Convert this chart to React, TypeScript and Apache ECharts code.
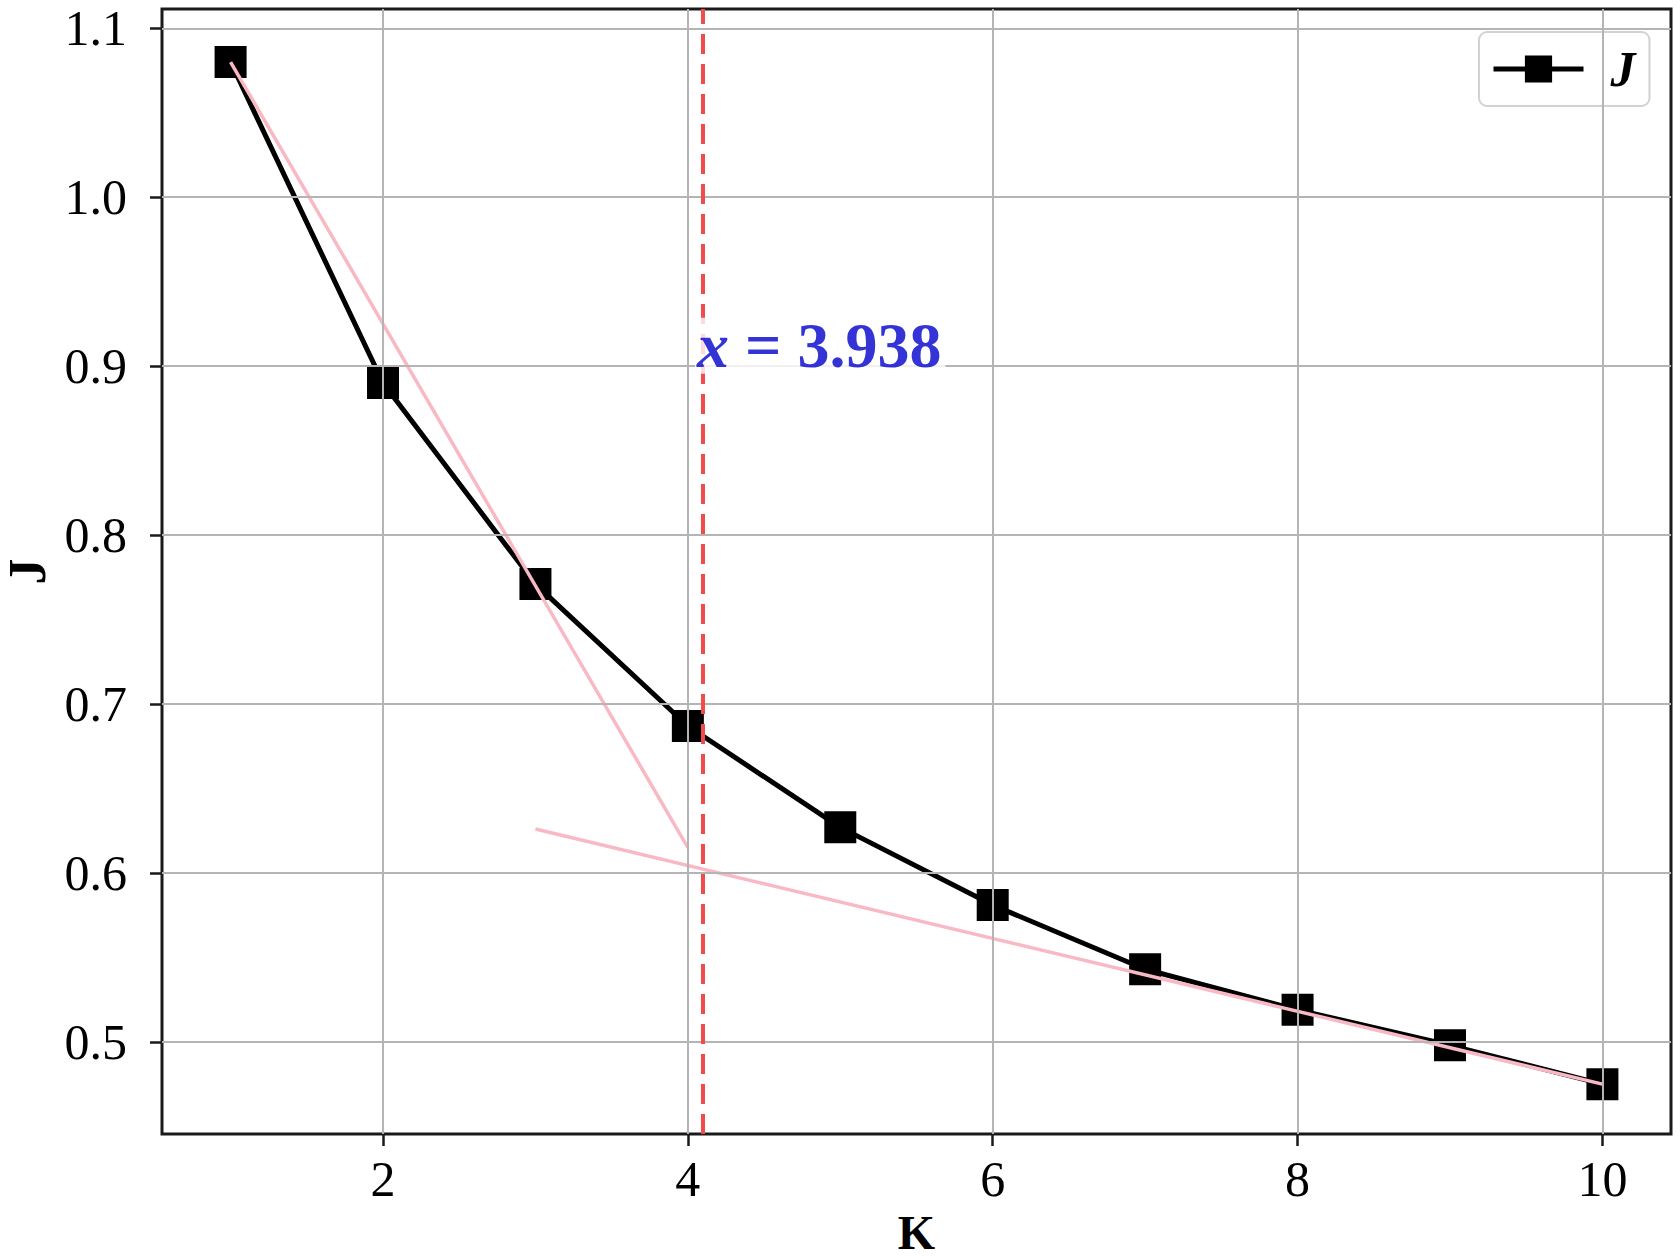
import React, { useEffect, useRef } from "react";
import * as echarts from "echarts";

// ---- data ----
const kValues = [1, 2, 3, 4, 5, 6, 7, 8, 9, 10];
const jValues = [1.08, 0.89, 0.771, 0.687, 0.627, 0.581, 0.543, 0.519, 0.498, 0.475];
const steepFitX = [1, 4];
const steepFitY = [1.08, 0.615];
const flatFitX = [3, 10];
const flatFitY = [0.626, 0.475];
const elbowLineX = 4.1;
const elbowLabel = "3.938";
const elbowLabelPos = [4.05, 0.9];
const xTicks = [2, 4, 6, 8, 10];
const yTicks = [0.5, 0.6, 0.7, 0.8, 0.9, 1.0, 1.1];
const xRange = [0.55, 10.45];
const yRange = [0.4455, 1.1114];

const FONT = "Liberation Serif";

export default function App() {
  const ref = useRef<HTMLDivElement>(null);
  useEffect(() => {
    if (!ref.current) return;
    const chart = echarts.init(ref.current, undefined, { renderer: "svg" });
    const gridColor = "#b4b4b4";
    chart.setOption({
      animation: false,
      backgroundColor: "#ffffff",
      textStyle: { fontFamily: FONT },
      grid: {
        left: 162,
        right: 9,
        top: 9,
        bottom: 126,
        show: true,
        borderColor: "#1a1a1a",
        borderWidth: 3,
        backgroundColor: "transparent",
        containLabel: false,
        outerBoundsMode: "none",
      },
      legend: {
        data: ["J"],
        left: 1479,
        top: 32,
        padding: [12, 14, 12, 12],
        itemWidth: 90,
        itemHeight: 34,
        borderColor: "#d2d2d2",
        borderWidth: 2,
        borderRadius: 8,
        backgroundColor: "rgba(255,255,255,0.8)",
        lineStyle: { width: 5 },
        textStyle: {
          fontFamily: FONT,
          fontSize: 50,
          fontWeight: "bold",
          fontStyle: "italic",
          color: "#000",
          padding: [0, 0, 0, 22],
          lineHeight: 50,
        },
      },
      xAxis: {
        type: "value",
        min: xRange[0],
        max: xRange[1],
        name: "K",
        nameLocation: "middle",
        nameGap: 62,
        nameTextStyle: {
          fontFamily: FONT,
          fontSize: 48,
          fontWeight: "bold",
          color: "#000",
          lineHeight: 40,
        },
        axisLine: { show: false },
        axisTick: {
          show: true,
          customValues: xTicks,
          length: 12,
          lineStyle: { color: "#1a1a1a", width: 2.5 },
        },
        axisLabel: {
          customValues: xTicks,
          margin: 20,
          fontFamily: FONT,
          fontSize: 50,
          color: "#000",
        },
        splitLine: { show: false },
      },
      yAxis: {
        type: "value",
        min: yRange[0],
        max: yRange[1],
        name: "J",
        nameLocation: "middle",
        nameGap: 110,
        nameRotate: 90,
        nameTextStyle: {
          fontFamily: FONT,
          fontSize: 52,
          fontWeight: "bold",
          color: "#000",
          lineHeight: 40,
        },
        axisLine: { show: false },
        axisTick: {
          show: true,
          customValues: yTicks,
          length: 12,
          lineStyle: { color: "#1a1a1a", width: 2.5 },
        },
        axisLabel: {
          customValues: yTicks,
          margin: 35,
          fontFamily: FONT,
          fontSize: 50,
          color: "#000",
          formatter: (v: number) => v.toFixed(1),
        },
        splitLine: { show: false },
      },
      series: [
        {
          name: "grid",
          type: "line",
          data: [],
          z: 1,
          silent: true,
          markLine: {
            silent: true,
            symbol: "none",
            label: { show: false },
            lineStyle: { color: gridColor, width: 2, type: "solid" },
            data: [
              ...xTicks.map((v) => ({ xAxis: v })),
              ...yTicks.map((v) => ({ yAxis: v })),
            ],
          },
        },
        {
          name: "J",
          type: "line",
          data: kValues.map((k, i) => [k, jValues[i]]),
          z: 2,
          symbol: "rect",
          symbolSize: 32,
          itemStyle: { color: "#000" },
          lineStyle: { color: "#000", width: 5 },
        },
        {
          name: "steep",
          type: "line",
          data: steepFitX.map((x, i) => [x, steepFitY[i]]),
          z: 3,
          symbol: "none",
          lineStyle: { color: "#f9b9c4", width: 3.5 },
          silent: true,
        },
        {
          name: "flat",
          type: "line",
          data: flatFitX.map((x, i) => [x, flatFitY[i]]),
          z: 3,
          symbol: "none",
          lineStyle: { color: "#f9b9c4", width: 3.5 },
          silent: true,
        },
        {
          name: "elbow",
          type: "line",
          data: [],
          z: 4,
          silent: true,
          markLine: {
            silent: true,
            symbol: "none",
            label: { show: false },
            lineStyle: { color: "#f24b4b", width: 4, type: [20, 10] },
            data: [{ xAxis: elbowLineX }],
          },
        },
        {
          name: "annot",
          type: "scatter",
          z: 5,
          silent: true,
          symbolSize: 1,
          itemStyle: { color: "rgba(0,0,0,0)" },
          data: [elbowLabelPos],
          label: {
            show: true,
            position: [0, 0],
            align: "left",
            verticalAlign: "bottom",
            offset: [0, 8],
            backgroundColor: "#ffffff",
            padding: [0, 4, 0, 2],
            formatter: () => "{i|x} = " + elbowLabel,
            fontFamily: FONT,
            fontSize: 64,
            fontWeight: "bold",
            color: "#0000cc",
            lineHeight: 56,
            rich: {
              i: {
                fontFamily: FONT,
                fontSize: 64,
                fontWeight: "bold",
                fontStyle: "italic",
                color: "#0000cc",
                lineHeight: 56,
              },
            },
          },
        },
      ],
    });
    return () => chart.dispose();
  }, []);
  return (
    <div
      ref={ref}
      style={{ position: "fixed", left: 0, top: 0, width: "1680px", height: "1260px" }}
    />
  );
}
